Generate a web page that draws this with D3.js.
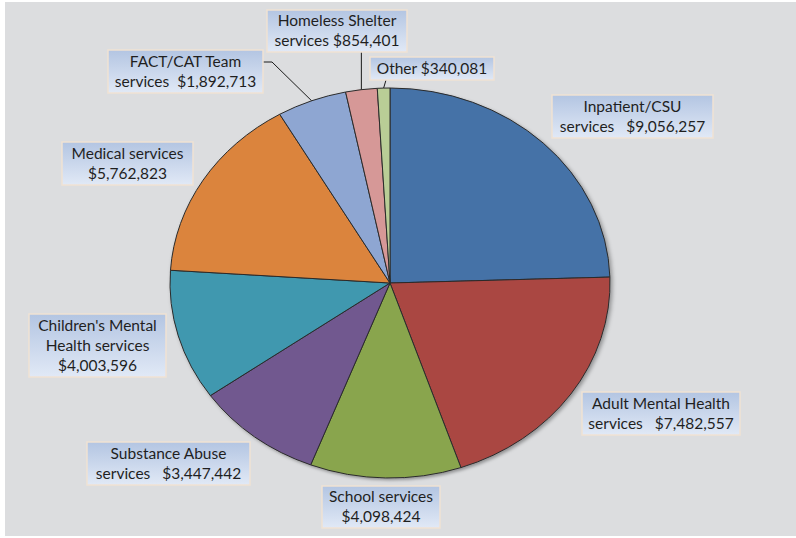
<!DOCTYPE html>
<html>
<head>
<meta charset="utf-8">
<script src="https://d3js.org/d3.v7.min.js"></script>
<style>
  body { margin: 0; background: #ffffff; }
  text { font-family: Lato, "Open Sans", sans-serif; font-size: 15.5px; fill: #1f1f1f; }
</style>
</head>
<body>
<svg id="chart" width="796" height="538"></svg>
<script>
    // data
    var categories = ["Inpatient/CSU services", "Adult Mental Health services", "School services",
        "Substance Abuse services", "Children's Mental Health services", "Medical services",
        "FACT/CAT Team services", "Homeless Shelter services", "Other"];
    var values = [9056257, 7482557, 4098424, 3447442, 4003596, 5762823, 1892713, 854401, 340081];
    var labelLines = [
        ["Inpatient/CSU", "services   $9,056,257"],
        ["Adult Mental Health", "services   $7,482,557"],
        ["School services", "$4,098,424"],
        ["Substance Abuse", "services   $3,447,442"],
        ["Children's Mental", "Health services", "$4,003,596"],
        ["Medical services", "$5,762,823"],
        ["FACT/CAT Team", "services  $1,892,713"],
        ["Homeless Shelter", "services $854,401"],
        ["Other $340,081"]
    ];
    var colors = ["#4572a7", "#aa4643", "#89a54e", "#71588f", "#4198af", "#db843d", "#8ea6d2", "#d69897", "#b9cd96"];

    // layout: label box [left, top, width, height]
    var boxes = [
        [552, 95, 161, 43],
        [582, 392, 158, 43],
        [322, 486, 118, 42],
        [87, 442, 163, 43],
        [29, 314, 137, 63],
        [62, 142, 131, 43],
        [108, 50, 155, 43],
        [267, 10, 140, 42],
        [370, 57, 124, 23]
    ];

    var svg = d3.select("#chart");
    var cx = 390, cy = 283, rx = 220, ry = 195;

    svg.append("rect").attr("x", 5).attr("y", 2).attr("width", 791).attr("height", 534)
        .attr("fill", "#dcdddf");

    var defs = svg.append("defs");
    var grad = defs.append("linearGradient").attr("id", "boxGrad")
        .attr("x1", 0).attr("y1", 0).attr("x2", 0).attr("y2", 1);
    grad.append("stop").attr("offset", "0%").attr("stop-color", "#b3c5e2");
    grad.append("stop").attr("offset", "100%").attr("stop-color", "#e1e9f6");

    var shadow = defs.append("filter").attr("id", "shadow")
        .attr("x", "-10%").attr("y", "-10%").attr("width", "120%").attr("height", "120%");
    shadow.append("feDropShadow").attr("dx", 2).attr("dy", 2).attr("stdDeviation", 2)
        .attr("flood-color", "#000").attr("flood-opacity", 0.35);

    var pie = d3.pie().sort(null).value(function(d) { return d; });
    var arcs = pie(values);
    var arc = d3.arc().innerRadius(0).outerRadius(rx);

    var g = svg.append("g")
        .attr("transform", "translate(" + cx + "," + cy + ") scale(1," + (ry / rx) + ")")
        .attr("filter", "url(#shadow)");

    g.selectAll("path.slice")
        .data(arcs)
        .enter().append("path")
        .attr("class", "slice")
        .attr("d", arc)
        .attr("fill", function(d, i) { return colors[i]; })
        .attr("stroke", "#2b2b2b")
        .attr("stroke-width", 1)
        .attr("vector-effect", "non-scaling-stroke");

    // point on the rim at the middle of a slice
    function rimPoint(d) {
        var a = (d.startAngle + d.endAngle) / 2;
        return [cx + rx * Math.sin(a), cy - ry * Math.cos(a)];
    }

    // leader lines for the small slices
    var leaders = svg.append("g").attr("fill", "none").attr("stroke", "#1a1a1a").attr("stroke-width", 1);
    var pH = rimPoint(arcs[7]);
    leaders.append("path").attr("d", "M" + pH[0] + "," + (boxes[7][1] + boxes[7][3]) + "L" + pH[0] + "," + pH[1]);
    var pO = rimPoint(arcs[8]);
    leaders.append("path").attr("d", "M" + (boxes[8][0] + 16) + "," + (boxes[8][1] + boxes[8][3]) + "L" + pO[0] + "," + pO[1]);
    var pF = rimPoint(arcs[6]);
    var fy = boxes[6][1] + 12;
    leaders.append("path").attr("d", "M" + (boxes[6][0] + boxes[6][2]) + "," + fy + "L" + (boxes[6][0] + boxes[6][2] + 9) + "," + fy + "L" + pF[0] + "," + pF[1]);

    // label boxes
    var labels = svg.selectAll("g.label")
        .data(arcs)
        .enter().append("g")
        .attr("class", "label");

    labels.append("rect")
        .attr("x", function(d, i) { return boxes[i][0]; })
        .attr("y", function(d, i) { return boxes[i][1]; })
        .attr("width", function(d, i) { return boxes[i][2]; })
        .attr("height", function(d, i) { return boxes[i][3]; })
        .attr("fill", "url(#boxGrad)")
        .attr("stroke", "#f0e2d4")
        .attr("stroke-width", 1.5);

    labels.each(function(d, i) {
        var lines = labelLines[i];
        var b = boxes[i];
        var lh = 20;
        var y0 = b[1] + b[3] / 2 - (lines.length - 1) * lh / 2;
        d3.select(this).selectAll("text")
            .data(lines)
            .enter().append("text")
            .attr("x", b[0] + b[2] / 2)
            .attr("y", function(t, j) { return y0 + j * lh; })
            .attr("dy", "0.35em")
            .attr("text-anchor", "middle")
            .style("white-space", "pre")
            .attr("xml:space", "preserve")
            .text(function(t) { return t; });
    });
</script>
</body>
</html>
